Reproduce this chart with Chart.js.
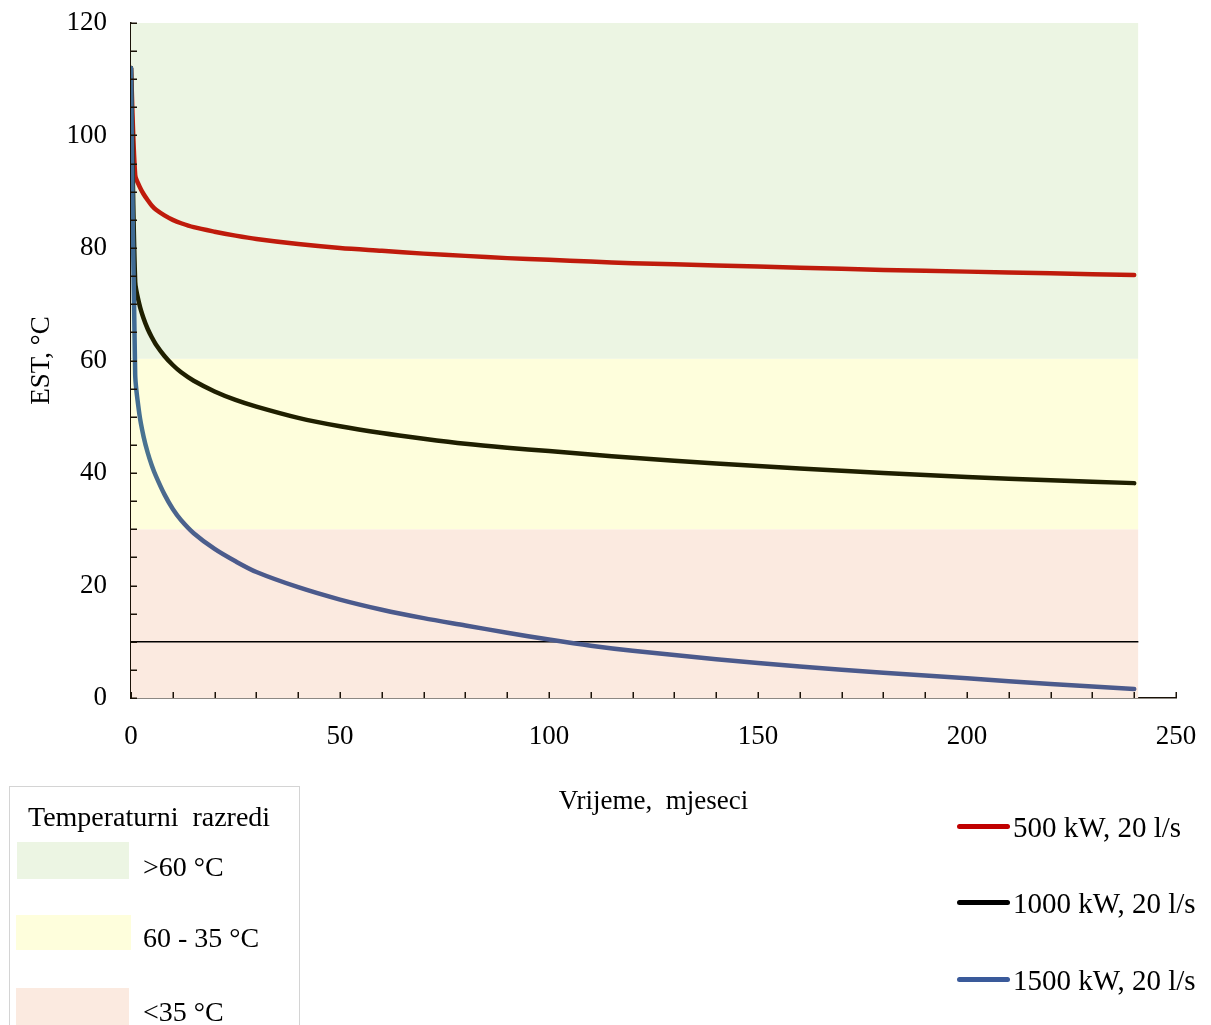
<!DOCTYPE html>
<html><head><meta charset="utf-8">
<script src="https://cdn.jsdelivr.net/npm/chart.js@4/dist/chart.umd.min.js"></script>
<style>
html,body{margin:0;padding:0;background:#fff;}
#wrap{position:relative;width:1211px;height:1025px;overflow:hidden;font-family:'Liberation Serif','Times New Roman',serif;color:#000;}
#wrap canvas{position:absolute;left:0;top:0;}
.t{position:absolute;font-size:28px;line-height:32px;white-space:pre;}
.t.s{font-size:29px;}
.sw{position:absolute;}
#box{position:absolute;left:9px;top:786px;width:291px;height:260px;border:1.5px solid #d4d4d4;box-sizing:border-box;}
</style></head><body>
<div id="wrap"><canvas id="c"></canvas><div id="box"></div></div>
<script>
// ---- data ----
const months = [0,1,2,3,4,5,6,8,10,12,15,20,25,30,40,50,60,70,80,90,100,110,120,140,160,180,200,220,240];
const est500  = [112,93,91,89.6,88.5,87.5,86.8,85.8,85.0,84.4,83.7,82.9,82.2,81.6,80.7,80.0,79.5,79.0,78.6,78.2,77.9,77.6,77.3,76.9,76.5,76.1,75.8,75.5,75.2];
const est1000 = [112,74,70,67.5,65.6,64.1,62.8,60.8,59.2,57.9,56.4,54.5,53.0,51.8,49.8,48.3,47.1,46.1,45.2,44.5,43.9,43.3,42.7,41.7,40.8,40.0,39.3,38.7,38.2];
const est1500 = [112,57.5,50.5,46.5,43.6,41.3,39.4,36.2,33.6,31.6,29.3,26.5,24.3,22.4,19.7,17.5,15.7,14.2,12.9,11.6,10.4,9.3,8.4,6.9,5.6,4.5,3.5,2.5,1.6];
const seriesNames = ['500 kW, 20 l/s','1000 kW, 20 l/s','1500 kW, 20 l/s'];
const classNames = ['>60 °C','60 - 35 °C','<35 °C'];
const classBounds = [120, 60.3, 30];   // upper limit of each class band
const bandRange = [0, 241];            // x extent of the bands
const refLine = 10;                    // horizontal reference line
const xTitle = 'Vrijeme,  mjeseci';
const yTitle = 'EST, °C';
const legendTitle = 'Temperaturni  razredi';

// ---- styles ----
const FONT = "'Liberation Serif','Times New Roman',serif";
const bandColors = ['#ecf5e3','#fefedc','#fbeae0'];
const lineColors = ['#bf1b0c','#1f1f00', null];
const legendLineColors = ['#c00000','#000000','#3a5a9a'];

function pts(xs, ys){ return xs.map((x,i)=>({x:x,y:ys[i]})); }
function flat(v){ return [{x:bandRange[0],y:v},{x:bandRange[1],y:v}]; }

function blueGrad(ctx){
  const ch = ctx.chart;
  if(!ch.chartArea) return '#4b5a8c';
  const ys = ch.scales.y;
  const g = ch.ctx.createLinearGradient(0, ys.getPixelForValue(60), 0, ys.getPixelForValue(25));
  g.addColorStop(0,'#3f6a94');
  g.addColorStop(0.45,'#4a7490');
  g.addColorStop(1,'#4b5a8c');
  return g;
}

const baseLine = {pointRadius:0, pointHoverRadius:0, tension:0.3, borderWidth:4.5, fill:false, borderCapStyle:'round', borderJoinStyle:'round'};

const datasets = [
  {data:flat(classBounds[2]), borderWidth:0, pointRadius:0, backgroundColor:bandColors[2], fill:'origin', order:10},
  {data:flat(classBounds[1]), borderWidth:0, pointRadius:0, backgroundColor:bandColors[1], fill:'-1', order:9},
  {data:flat(classBounds[0]), borderWidth:0, pointRadius:0, backgroundColor:bandColors[0], fill:'-1', order:8},
  {data:flat(refLine), borderWidth:1.5, borderColor:'#000', pointRadius:0, fill:false, order:7},
  Object.assign({}, baseLine, {label:seriesNames[0], data:pts(months, est500), borderColor:lineColors[0], order:3}),
  Object.assign({}, baseLine, {label:seriesNames[1], data:pts(months, est1000), borderColor:lineColors[1], order:2}),
  Object.assign({}, baseLine, {label:seriesNames[2], data:pts(months, est1500), borderColor:blueGrad, order:1})
];

const tickMarks = {
  id:'tickMarks',
  afterDraw(chart){
    const ctx = chart.ctx, xs = chart.scales.x, ys = chart.scales.y;
    const ca = chart.chartArea;
    ctx.save();
    ctx.strokeStyle = '#1a1208';
    ctx.lineWidth = 1.5;
    ctx.beginPath();
    xs.ticks.forEach(t=>{ const p = Math.round(xs.getPixelForValue(t.value))+0.25; ctx.moveTo(p, ca.bottom); ctx.lineTo(p, ca.bottom-6); });
    ys.ticks.forEach(t=>{ const p = Math.round(ys.getPixelForValue(t.value))+0.25; ctx.moveTo(ca.left, p); ctx.lineTo(ca.left+6, p); });
    ctx.stroke();
    ctx.restore();
  }
};

new Chart(document.getElementById('c'), {
  type:'line',
  data:{datasets:datasets},
  options:{
    responsive:true, maintainAspectRatio:false, animation:false,
    layout:{padding:{left:0, top:23, right:35, bottom:207}},
    plugins:{legend:{display:false}, tooltip:{enabled:false}},
    scales:{
      x:{type:'linear', min:0, max:250,
        afterFit(s){ s.height = 120; s.paddingLeft = 0; s.paddingRight = 0; },
        grid:{display:false, drawTicks:false},
        border:{display:true, color:'#1a1208', width:1.5},
        ticks:{stepSize:10, autoSkip:false, maxRotation:0, padding:23, color:'#000', font:{family:FONT, size:27},
          callback:v=> (v % 50 === 0 ? String(v) : '')},
        title:{display:true, text:xTitle, color:'#000', font:{family:FONT, size:27}, padding:{top:0, bottom:0}}
      },
      y:{type:'linear', min:0, max:120,
        afterFit(s){ s.width = 131; s.paddingTop = 0; s.paddingBottom = 0; },
        grid:{display:false, drawTicks:false},
        border:{display:true, color:'#1a1208', width:1.5},
        ticks:{stepSize:5, autoSkip:false, padding:24, color:'#000', font:{family:FONT, size:27},
          callback:v=> (v % 20 === 0 ? String(v) : '')},
        title:{display:true, text:yTitle, color:'#000', font:{family:FONT, size:27}, padding:{top:26, bottom:0}}
      }
    }
  },
  plugins:[tickMarks]
});

// ---- legends (HTML text) ----
const wrap = document.getElementById('wrap');
function addText(txt, left, cy, cls){
  const d = document.createElement('div'); d.className='t' + (cls ? ' '+cls : ''); d.textContent = txt;
  d.style.left = left+'px'; d.style.top = (cy-16)+'px'; wrap.appendChild(d); return d;
}
function addRect(l,t,w,h,c,r){
  const d = document.createElement('div'); d.className='sw';
  d.style.left=l+'px'; d.style.top=t+'px'; d.style.width=w+'px'; d.style.height=h+'px'; d.style.background=c;
  if(r) d.style.borderRadius=r+'px';
  wrap.appendChild(d);
}
addText(legendTitle, 28, 817);
const swatchRows = [[17,842,112,37],[16,915,115,35],[16,988,113,40]];
const labelCy = [867, 938, 1012];
classNames.forEach((n,i)=>{
  const s = swatchRows[i];
  addRect(s[0], s[1], s[2], s[3], bandColors[i]);
  addText(n, 143, labelCy[i]);
});
const legCy = [826, 902, 979];
seriesNames.forEach((n,i)=>{
  addRect(957, legCy[i]-2.5, 53, 5, legendLineColors[i], 3);
  addText(n, 1013, legCy[i]+1, 's');
});
</script>
</body></html>
